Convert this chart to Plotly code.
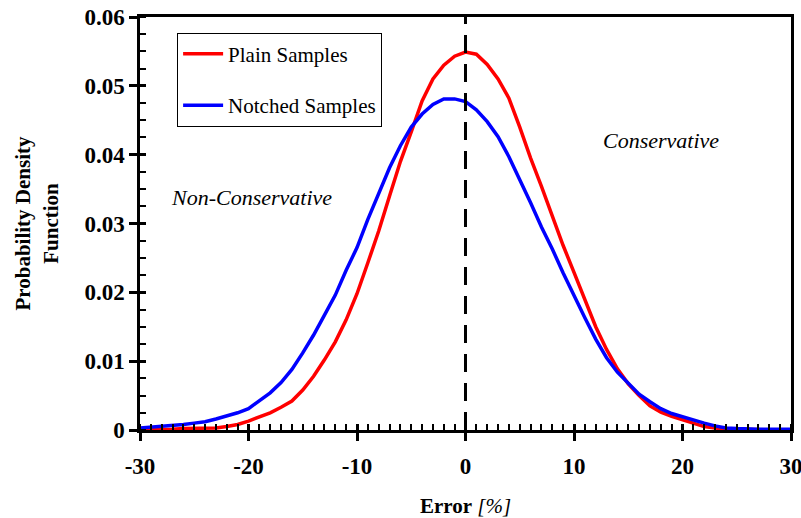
import plotly.graph_objects as go

# ---- data ----
err_x = list(range(-30, 31))

plain_pdf = [
    0.0000, 0.0000, 0.0001, 0.0001, 0.0002, 0.0002, 0.0003, 0.0003, 0.0005, 0.0008,  # -30..-21
    0.0013, 0.0019, 0.0025, 0.0033, 0.0042, 0.0058, 0.0078, 0.0102, 0.0128, 0.0160,  # -20..-11
    0.0198, 0.0243, 0.0289, 0.0340, 0.0390, 0.0433, 0.0478, 0.0510, 0.0530, 0.0543,  # -10..-1
    0.0549,                                                                          # 0
    0.0546, 0.0531, 0.0510, 0.0482, 0.0440, 0.0395, 0.0354, 0.0310, 0.0268, 0.0229,  # 1..10
    0.0190, 0.0150, 0.0117, 0.0089, 0.0067, 0.0050, 0.0035, 0.0026, 0.0020, 0.0015,  # 11..20
    0.0010, 0.0005, 0.0003, 0.0001, 0.0001, 0.0001, 0.0000, 0.0000, 0.0000, 0.0000,  # 21..30
]

notched_pdf = [
    0.0003, 0.0004, 0.0005, 0.0006, 0.0008, 0.0010, 0.0012, 0.0016, 0.0020, 0.0025,  # -30..-21
    0.0031, 0.0043, 0.0054, 0.0069, 0.0088, 0.0112, 0.0138, 0.0167, 0.0196, 0.0232,  # -20..-11
    0.0265, 0.0306, 0.0343, 0.0381, 0.0413, 0.0440, 0.0459, 0.0473, 0.0481, 0.0481,  # -10..-1
    0.0477,                                                                          # 0
    0.0465, 0.0448, 0.0426, 0.0397, 0.0364, 0.0330, 0.0295, 0.0263, 0.0228, 0.0195,  # 1..10
    0.0163, 0.0132, 0.0105, 0.0084, 0.0068, 0.0052, 0.0041, 0.0031, 0.0024, 0.0019,  # 11..20
    0.0014, 0.0010, 0.0006, 0.0003, 0.0002, 0.0001, 0.0001, 0.0001, 0.0001, 0.0001,  # 21..30
]

x_tickvals = [-30, -20, -10, 0, 10, 20, 30]
x_ticktext = ["-30", "-20", "-10", "0", "10", "20", "30"]
y_tickvals = [0, 0.01, 0.02, 0.03, 0.04, 0.05, 0.06]
y_ticktext = ["0", "0.01", "0.02", "0.03", "0.04", "0.05", "0.06"]

FONT = "Liberation Serif, Times New Roman, serif"

fig = go.Figure()
fig.add_trace(go.Scatter(x=err_x, y=plain_pdf, mode="lines", name="Plain Samples",
                         line=dict(color="#FF0000", width=3.5), legendgroup="a"))
fig.add_trace(go.Scatter(x=err_x, y=notched_pdf, mode="lines", name="Notched Samples",
                         line=dict(color="#0000FF", width=3.5), legendgroup="b"))
# empty trace to activate overlay axes (inside half of major ticks)
fig.add_trace(go.Scatter(x=[None], y=[None], xaxis="x2", yaxis="y2", showlegend=False,
                         hoverinfo="skip"))

# dashed zero line
fig.add_shape(type="line", x0=0, x1=0, y0=0, y1=0.06, xref="x", yref="y",
              line=dict(color="black", width=3, dash="18px,11px"))

fig.add_annotation(x=-19.75, y=0.0338, text="<i>Non-Conservative</i>", showarrow=False,
                   font=dict(family=FONT, size=22, color="black"), xref="x", yref="y")
fig.add_annotation(x=18.0, y=0.0421, text="<i>Conservative</i>", showarrow=False,
                   font=dict(family=FONT, size=22, color="black"), xref="x", yref="y")

axis_common = dict(showgrid=False, zeroline=False, linecolor="black", linewidth=2.5,
                   mirror=True, ticks="outside", ticklen=8, tickwidth=2.5, tickcolor="black",
                   automargin=False, ticklabeloverflow="allow",
                   tickfont=dict(family=FONT, size=23, color="black", weight="bold"))

fig.update_layout(
    width=801, height=518,
    margin=dict(l=140, r=10, t=17, b=88),
    paper_bgcolor="white", plot_bgcolor="white",
    font=dict(family=FONT, color="black"),
    xaxis=dict(range=[-30, 30], tickvals=x_tickvals, ticktext=x_ticktext,
               ticklabelstandoff=6,
               minor=dict(ticks="inside", dtick=1, ticklen=6, tickwidth=2, tickcolor="black"),
               title=dict(text="<b>Error</b> <i>[%]</i>", font=dict(family=FONT, size=21),
                          standoff=20),
               **axis_common),
    yaxis=dict(range=[0, 0.06], tickvals=y_tickvals, ticktext=y_ticktext,
               ticklabelstandoff=0,
               minor=dict(ticks="inside", dtick=0.0025, ticklen=6, tickwidth=2, tickcolor="black"),
               title=dict(text="<b>Probability Density<br>Function</b>",
                          font=dict(family=FONT, size=21), standoff=21),
               **axis_common),
    xaxis2=dict(overlaying="x", matches="x", anchor="y2", range=[-30, 30],
                tickvals=x_tickvals, ticks="inside", ticklen=6, tickwidth=2.5,
                tickcolor="black", showticklabels=False, showline=False,
                showgrid=False, zeroline=False, side="bottom", automargin=False),
    yaxis2=dict(overlaying="y", matches="y", anchor="x2", range=[0, 0.06],
                tickvals=y_tickvals, ticks="inside", ticklen=6, tickwidth=2.5,
                tickcolor="black", showticklabels=False, showline=False,
                showgrid=False, zeroline=False, side="left", automargin=False),
    legend=dict(x=0.057, y=0.962, xanchor="left", yanchor="top",
                bgcolor="white", bordercolor="black", borderwidth=1,
                font=dict(family=FONT, size=21, color="black"),
                tracegroupgap=21, itemwidth=40),
    showlegend=True,
)

fig.write_html("out.html", config={"displayModeBar": False},
               post_script="document.body.style.margin='0';document.body.style.overflow='hidden';")
